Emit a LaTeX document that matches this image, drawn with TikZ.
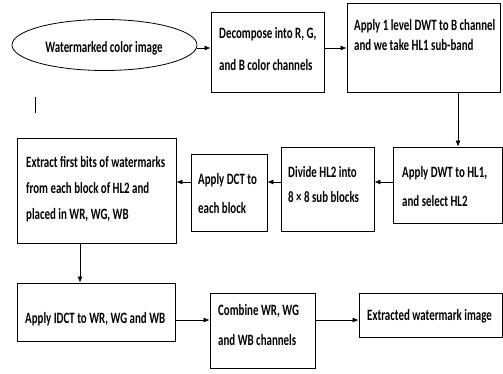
\documentclass[tikz,border=0pt]{standalone}
\usepackage{fontspec}
\setmainfont{Carlito}
\usetikzlibrary{arrows.meta,shapes.geometric}
\begin{document}
\begin{tikzpicture}[x=1pt,y=1pt,
        box/.style = {draw, line width=0.8pt, inner sep=0pt},
        txt/.style = {align=left, inner sep=0pt, yscale=1.45,
            font=\bfseries\fontsize{10.9}{#1}\selectfont},
        txt/.default = 20,
        arr/.style = {-{Latex[length=6pt,width=5pt]}, line width=0.7pt}]

    \useasboundingbox (0,0) rectangle (503,-373);

    % First row
    \node[box, ellipse, minimum width=185pt, minimum height=51pt] (img) at (104.5,-45) {};
    \node[box, minimum width=113pt, minimum height=80pt] (split) at (267.5,-52) {};
    \node[box, minimum width=153pt, minimum height=89pt] (dwt1) at (423.5,-47.5) {};

    % Second row
    \node[box, minimum width=109pt, minimum height=76pt] (dwt2) at (447.5,-185) {};
    \node[box, minimum width=93pt, minimum height=84pt] (divide) at (327.5,-189) {};
    \node[box, minimum width=76pt, minimum height=77pt] (dct) at (229,-192.5) {};
    \node[box, minimum width=159pt, minimum height=105pt] (extract) at (96.5,-190.5) {};

    % Third row
    \node[box, minimum width=158pt, minimum height=58pt] (idct) at (96,-312) {};
    \node[box, minimum width=105pt, minimum height=75pt] (combine) at (262.5,-330.5) {};
    \node[box, minimum width=143pt, minimum height=44pt] (wm) at (430.5,-315) {};

    % Texts
    \node[txt] (imgtxt) at (104,-48) {Watermarked color image};
    \node[txt=22, anchor=west] (splittxt) at (219,-49) {Decompose into R, G,\\and B color channels};
    \node[txt=13.8, anchor=west] (dwt1txt) at (354,-35) {Apply 1 level DWT to B channel\\and we take HL1 sub-band};
    \node[txt=20, anchor=west] (dwt2txt) at (402,-186.5) {Apply DWT to HL1,\\and select HL2};
    \node[txt=17.2, anchor=west] (dividetxt) at (288,-184.5) {Divide HL2 into\\8 × 8 sub blocks};
    \node[txt=20, anchor=west] (dcttxt) at (198,-193.5) {Apply DCT to\\each block};
    \node[txt=18, anchor=west] (extracttxt) at (26,-189) {Extract first bits of watermarks\\from each block of HL2 and\\placed in WR, WG, WB};
    \node[txt, anchor=west] (idcttxt) at (25,-319) {Apply IDCT to WR, WG and WB};
    \node[txt=20.7, anchor=west] (combinetxt) at (218,-325) {Combine WR, WG\\and WB channels};
    \node[txt, anchor=west] (wmtxt) at (367,-316) {Extracted watermark image};

    % Arrows
    \coordinate (r1) at (0,-48);
    \coordinate (r2) at (0,-182);
    \coordinate (r3) at (0,-320);
    \coordinate (c1) at (458,0);
    \coordinate (c2) at (80,0);
    \draw[arr] (img.east |- r1) -- (split.west |- r1);
    \draw[arr] (split.east |- r1) -- (dwt1.west |- r1);
    \draw[arr] (dwt1.south -| c1) -- (dwt2.north -| c1);
    \draw[arr] (dwt2.west |- r2) -- (divide.east |- r2);
    \draw[arr] (divide.west |- r2) -- (dct.east |- r2);
    \draw[arr] (dct.west |- r2) -- (extract.east |- r2);
    \draw[arr] (extract.south -| c2) -- (idct.north -| c2);
    \draw[arr] (idct.east |- r3) -- (combine.west |- r3);
    \draw[arr] (combine.east |- r3) -- (wm.west |- r3);

    % Stray mark
    \draw[line width=0.8pt] (35,-97) -- (35,-113);

\end{tikzpicture}
\end{document}
